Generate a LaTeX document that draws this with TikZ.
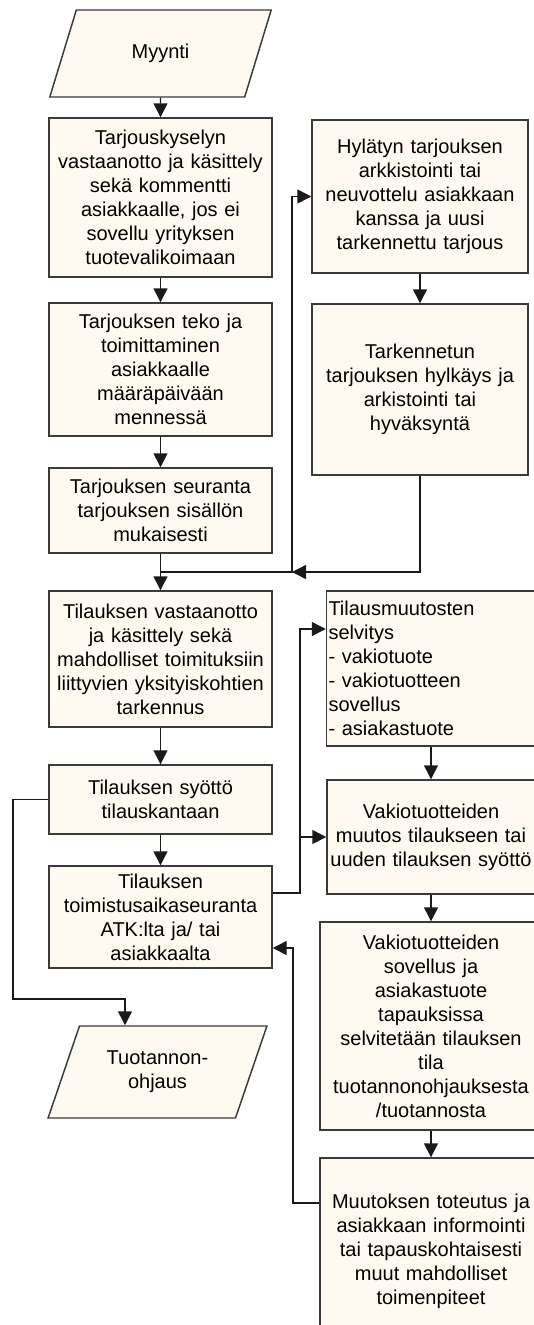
\documentclass[tikz,border=0pt]{standalone}
\usepackage{fontspec}
\setmainfont{Liberation Sans}
\usetikzlibrary{arrows.meta, shapes.geometric}
\definecolor{boxfill}{HTML}{FFFAEF}
\definecolor{boxink}{HTML}{3A3A3A}
\definecolor{lineink}{HTML}{1A1A1A}

\begin{document}
\begin{tikzpicture}[x=0.75pt, y=-0.75pt,
  font=\fontsize{15}{18}\selectfont,
  sz/.style 2 args={text width=#1*0.75pt, minimum height=#2*0.75pt},
  box/.style={draw=boxink, fill=boxfill, line width=1.1pt, inner xsep=0pt,
              inner ysep=0pt, align=center},
  io/.style={trapezium, trapezium left angle=64, trapezium right angle=116,
             trapezium stretches=true, draw=boxink, fill=boxfill,
             line width=1.1pt, align=center, inner sep=0pt},
  link/.style={draw=lineink, line width=1.1pt},
  flow/.style={link, -{Triangle[length=10.5pt, width=10.5pt]}}]
  \useasboundingbox (0,0) rectangle (534,1325);

  % left column
  \node[io, minimum width=222*0.75pt, minimum height=87*0.75pt] (myynti)
    at (160.5,53.5) {Myynti};
  \node[box, sz={223}{159}] (b1) at (160.5,197.5)
    {Tarjouskyselyn\\vastaanotto ja käsittely\\sekä kommentti\\asiakkaalle, jos ei\\sovellu yrityksen\\tuotevalikoimaan};
  \node[box, sz={223}{133}] (b2) at (160.5,369.5)
    {Tarjouksen teko ja\\toimittaminen\\asiakkaalle\\määräpäivään\\mennessä};
  \node[box, sz={223}{85}] (b3) at (160.5,510.5)
    {Tarjouksen seuranta\\tarjouksen sisällön\\mukaisesti};
  \node[box, sz={223}{136}] (b4) at (160.5,659)
    {Tilauksen vastaanotto\\ja käsittely sekä\\mahdolliset toimituksiin\\liittyvien yksityiskohtien\\tarkennus};
  \node[box, sz={223}{69}] (b5) at (160.5,799.5)
    {Tilauksen syöttö\\tilauskantaan};
  \node[box, sz={223}{102}] (b6) at (160.5,917)
    {Tilauksen\\toimistusaikaseuranta\\ATK:lta ja/ tai\\asiakkaalta};
  \node[io, minimum width=219*0.75pt, minimum height=92*0.75pt] (tuot)
    at (157.5,1072) {Tuotannon-\\ohjaus};

  % right column
  \node[box, sz={216}{153}] (h1) at (420,196.5)
    {Hylätyn tarjouksen\\arkkistointi tai\\neuvottelu asiakkaan\\kanssa ja uusi\\tarkennettu tarjous};
  \node[box, sz={216}{171}] (h2) at (420,389.5)
    {Tarkennetun\\tarjouksen hylkäys ja\\arkistointi tai\\hyväksyntä};
  \node[box, sz={208}{155}, align=left, inner xsep=1.5pt, text width=205*0.75pt]
    (tm) at (431,668.5)
    {Tilausmuutosten\\selvitys\\- vakiotuote\\- vakiotuotteen\\sovellus\\- asiakastuote};
  \node[box, sz={208}{114}] (vm) at (431,837)
    {Vakiotuotteiden\\muutos tilaukseen tai\\uuden tilauksen syöttö};
  \node[box, sz={222}{208}] (vs) at (431,1026)
    {Vakiotuotteiden\\sovellus ja\\asiakastuote\\tapauksissa\\selvitetään tilauksen\\tila\\tuotannonohjauksesta\\/tuotannosta};
  \node[box, sz={222}{186}] (mt) at (431,1251)
    {Muutoksen toteutus ja\\asiakkaan informointi\\tai tapauskohtaisesti\\muut mahdolliset\\toimenpiteet};

  % straight arrows
  \foreach \a/\b in {myynti/b1, b1/b2, b2/b3, b4/b5, b5/b6,
                     h1/h2, tm/vm, vm/vs, vs/mt}{%
    \draw[flow] (\a) -- (\b);}

  % offer loop
  \coordinate (j1) at (160.5,572);
  \coordinate (j2) at (292,572);
  \draw[link] (b3) -- (j1);
  \draw[flow] (j1) -- (b4);
  \draw[flow] (j1) -- (j2) |- (h1);
  \draw[flow] (h2) |- (j2);

  % to production control
  \coordinate (k1) at (13,999);
  \coordinate (k2) at (125,999);
  \draw[flow] (b5) -| (k1) -- (k2) -- (k2 |- tuot.north);

  % order changes
  \coordinate (m1) at (300,893);
  \coordinate (m2) at (300,629);
  \draw[flow] (b6.east |- m1) -- (m1) -- (m2) -- (m2 -| tm.west);
  \draw[flow] (m1 |- vm) -- (vm);

  % back to follow-up
  \coordinate (r1) at (293,1203);
  \coordinate (r2) at (293,948);
  \draw[flow] (mt.west |- r1) -- (r1) -- (r2) -- (r2 -| b6.east);
\end{tikzpicture}
\end{document}
